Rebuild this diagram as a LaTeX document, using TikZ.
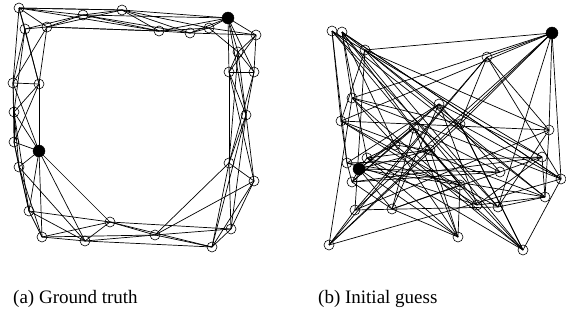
\documentclass[tikz,border=0pt]{standalone}
\usepackage{fontspec}
\setmainfont{Liberation Serif}
\begin{document}
\begin{tikzpicture}[x=1pt,y=-1pt,
  vtx/.style={circle,draw,line width=0.6pt,minimum size=10pt,inner sep=0pt},
  anchorvtx/.style={circle,fill=black,draw,minimum size=12pt,inner sep=0pt},
  edge/.style={line width=0.7pt},
  caption/.style={anchor=base west,font=\fontsize{19}{21}\selectfont,inner sep=0pt}]
\useasboundingbox (0,0) rectangle (566,324);

% ---- (a) ground-truth positions ----
\foreach \n/\x/\y in {1/19/8,2/47/27,3/83/15,4/122/10,5/159/31,6/190/33,7/209/28,
  9/256/35,10/238/52,11/254/72,12/229/72,13/246/115,14/229/163,15/254/181,
  16/231/229,17/212/247,18/155/235,19/110/222,20/85/241,21/42/237,22/29/211,
  23/19/167,25/14/142,26/14/112,27/39/84,28/13/83,29/25/29}
  \node[vtx] (a\n) at (\x,\y) {};
\node[anchorvtx] (a8) at (228,18) {};
\node[anchorvtx] (a24) at (39,151) {};

% ---- (b) initial-guess positions ----
\foreach \n/\x/\y in {1/342/32,2/523/250,3/352/98,4/561/179,5/460/124,6/329/245,
  7/487/57,9/355/210,10/549/130,11/365/50,12/498/207,13/341/121,14/545/197,
  15/332/31,16/477/205,17/347/163,18/542/157,19/439/104,20/352/182,21/500/172,
  22/392/209,23/414/128,25/460/185,26/458/237,27/367/158,28/430/150,29/395/145}
  \node[vtx] (b\n) at (\x,\y) {};
\node[anchorvtx] (b8) at (552,33) {};
\node[anchorvtx] (b24) at (359,169) {};

% ---- measurement edges: ring neighbours ----
\foreach \i in {1,...,29}{
  \foreach \k in {1,2,3}{
    \pgfmathtruncatemacro\j{mod(\i-1+\k,29)+1}
    \draw[edge] (a\i.center) -- (a\j.center);
    \draw[edge] (b\i.center) -- (b\j.center);
  }
}
% ---- extra edges ----
\foreach \i/\j in {8/3,8/4,8/12,8/13,1/4,1/5,2/5,24/19,24/20,24/28,14/18,13/17,10/14,22/26,27/2}{
  \draw[edge] (a\i.center) -- (a\j.center);
  \draw[edge] (b\i.center) -- (b\j.center);
}

\node[caption] (capa) at (13,303) {(a) Ground truth};
\node[caption] (capb) at (318,303) {(b) Initial guess};
\end{tikzpicture}
\end{document}
